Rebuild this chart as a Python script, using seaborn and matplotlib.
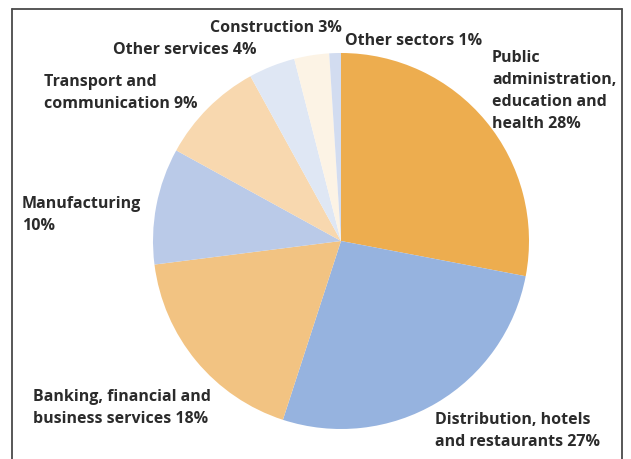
import matplotlib
matplotlib.use("Agg")
import matplotlib.pyplot as plt
from matplotlib.lines import Line2D
import seaborn as sns

sectors = [
    "Public administration, education and health",
    "Distribution, hotels and restaurants",
    "Banking, financial and business services",
    "Manufacturing",
    "Transport and communication",
    "Other services",
    "Construction",
    "Other sectors",
]
shares = [28, 27, 18, 10, 9, 4, 3, 1]
colors = ["#EDAD4F", "#96B3DF", "#F2C382", "#BACAE8", "#F8D8AF",
          "#DFE7F4", "#FCF3E5", "#D2DCF0"]

label_text = [
    "Public\nadministration,\neducation and\nhealth {}%",
    "Distribution, hotels\nand restaurants {}%",
    "Banking, financial and\nbusiness services {}%",
    "Manufacturing\n{}%",
    "Transport and\ncommunication {}%",
    "Other services {}%",
    "Construction {}%",
    "Other sectors {}%",
]
# label anchor (left edge, vertical centre of the block) in pixels from top-left
label_pos = [(492, 91), (435, 431), (33, 408), (22, 215),
             (44, 93), (113, 50), (210, 28), (345, 41)]

sns.set_theme(style="white")
plt.rcParams["font.family"] = ["Open Sans", "DejaVu Sans"]

W, H = 631, 459
fig = plt.figure(figsize=(W / 100, H / 100), dpi=100)
fig.patch.set_facecolor("white")

cx, cy, r = 341, 241, 188
ax = fig.add_axes([(cx - r) / W, (H - cy - r) / H, 2 * r / W, 2 * r / H])
ax.pie(shares, colors=colors, startangle=90, counterclock=False,
       wedgeprops=dict(linewidth=0))
ax.set_xlim(-1, 1)
ax.set_ylim(-1, 1)
ax.set_aspect("equal")
ax.axis("off")

for txt, val, (px, py) in zip(label_text, shares, label_pos):
    fig.text(px / W, 1 - py / H, txt.format(val), ha="left", va="center",
             fontsize=11.5, fontweight="bold", color="#2b2b2b",
             linespacing=1.5)

# open frame around the chart
frame = dict(color="#4a4a4a", linewidth=1.3, transform=fig.transFigure)
fig.add_artist(Line2D([12 / W, 12 / W], [0, 1 - 9 / H], **frame))
fig.add_artist(Line2D([12 / W, 622 / W], [1 - 9 / H, 1 - 9 / H], **frame))
fig.add_artist(Line2D([622 / W, 622 / W], [0, 1 - 9 / H], **frame))

fig.savefig("out.png", dpi=100)
